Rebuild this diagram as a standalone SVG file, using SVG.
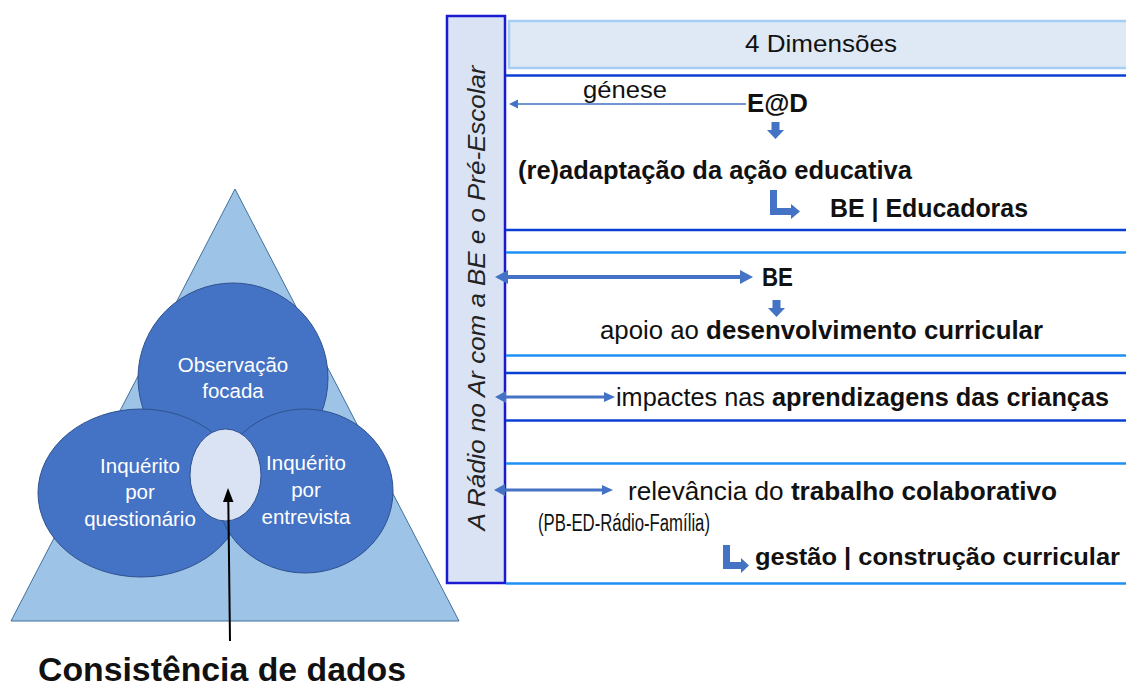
<svg xmlns="http://www.w3.org/2000/svg" width="1126" height="693" viewBox="0 0 1126 693">
<style>
.t{font-family:"Liberation Sans",Arial,sans-serif;fill:#111;font-size:25px}
.b{font-weight:bold}
.w{font-family:"Liberation Sans",Arial,sans-serif;fill:#fff;font-size:20.5px;text-anchor:middle}
.dk{stroke:#0b3fd4;stroke-width:2.5}
.lt{stroke:#1e90f5;stroke-width:2.5}
.ar{fill:#4472c4}
.circ{fill:#4472c4;stroke:#2f528f;stroke-width:1}
</style>
<rect width="1126" height="693" fill="#fff"/>
<!-- left diagram -->
<g id="triangle"><polygon points="235,189 11,621 459,621" fill="#9dc3e6" stroke="#41719c" stroke-width="1"/></g>
<g id="observacao"><ellipse cx="233" cy="378" rx="95" ry="95" class="circ"/>
<text class="w"><tspan x="233" y="372">Observação</tspan><tspan x="233" y="398">focada</tspan></text></g>
<g id="questionario"><ellipse cx="141" cy="493" rx="103" ry="84" class="circ"/>
<text class="w"><tspan x="140" y="473">Inquérito</tspan><tspan x="140" y="499">por</tspan><tspan x="140" y="526">questionário</tspan></text></g>
<g id="entrevista"><ellipse cx="305" cy="491" rx="88" ry="82" class="circ"/>
<text class="w"><tspan x="306" y="470">Inquérito</tspan><tspan x="306" y="497">por</tspan><tspan x="306" y="524">entrevista</tspan></text></g>
<g id="centro"><ellipse cx="225.5" cy="475" rx="35.5" ry="46" fill="#dae3f3" stroke="#2f528f" stroke-width="1"/></g>
<g id="consistencia"><text class="t b" x="222" y="681" style="font-size:33px" text-anchor="middle" textLength="368" lengthAdjust="spacingAndGlyphs">Consistência de dados</text></g>

<!-- right panel -->
<g id="eixo"><rect x="447" y="16" width="58" height="567" fill="#dae3f3" stroke="#1a1ad0" stroke-width="2.5"/>
<text class="t" style="font-size:23px;font-style:italic;fill:#222" transform="translate(485,298) rotate(-90)" text-anchor="middle" textLength="465" lengthAdjust="spacingAndGlyphs">A Rádio no Ar com a BE e o Pré-Escolar</text></g>
<g id="dimensoes"><rect x="509" y="21" width="620" height="47" fill="#dee9f5" stroke="#a6cdf6" stroke-width="2.5"/>
<text class="t" x="821" y="52" style="font-size:24px" text-anchor="middle" textLength="152" lengthAdjust="spacingAndGlyphs">4 Dimensões</text></g>
<g id="lines">
<line x1="506" y1="75.5" x2="1126" y2="75.5" class="dk"/>
<line x1="506" y1="230" x2="1126" y2="230" class="dk"/>
<line x1="506" y1="252.5" x2="1126" y2="252.5" class="lt"/>
<line x1="506" y1="355.5" x2="1126" y2="355.5" class="lt"/>
<line x1="506" y1="373" x2="1126" y2="373" class="dk"/>
<line x1="506" y1="420.5" x2="1126" y2="420.5" class="dk"/>
<line x1="506" y1="463.5" x2="1126" y2="463.5" class="lt"/>
<line x1="506" y1="583.5" x2="1126" y2="583.5" class="lt"/>
</g>
<g id="d1">
<text class="t" x="583" y="98" style="font-size:24px" textLength="84" lengthAdjust="spacingAndGlyphs">génese</text>
<text class="t b" x="747" y="112" textLength="61" lengthAdjust="spacingAndGlyphs">E@D</text>
<text class="t b" x="518" y="179" textLength="394" lengthAdjust="spacingAndGlyphs">(re)adaptação da ação educativa</text>
<text class="t b" x="830" y="217" textLength="198" lengthAdjust="spacingAndGlyphs">BE | Educadoras</text>
</g>
<g id="d2">
<text class="t b" x="762" y="286" textLength="31" lengthAdjust="spacingAndGlyphs">BE</text>
<text class="t" x="600" y="339" textLength="443" lengthAdjust="spacingAndGlyphs">apoio ao <tspan class="b">desenvolvimento curricular</tspan></text>
</g>
<g id="d3">
<text class="t" x="616" y="406" textLength="493" lengthAdjust="spacingAndGlyphs">impactes nas <tspan class="b">aprendizagens das crianças</tspan></text>
</g>
<g id="d4">
<text class="t" x="628" y="500" textLength="429" lengthAdjust="spacingAndGlyphs">relevância do <tspan class="b">trabalho colaborativo</tspan></text>
<text class="t" x="538" y="531" style="font-size:23px" textLength="172" lengthAdjust="spacingAndGlyphs">(PB-ED-Rádio-Família)</text>
<text class="t b" x="755" y="565" style="font-size:24px" textLength="365" lengthAdjust="spacingAndGlyphs">gestão | construção curricular</text>
</g>
<g id="connectors">
<line x1="746" y1="104" x2="516" y2="104" stroke="#4472c4" stroke-width="1.5"/>
<polygon points="509,104 518,99.5 518,108.5" class="ar"/>
<polygon points="771.5,122 779.5,122 779.5,130 784,130 775.5,139 767,130 771.5,130" class="ar"/>
<polygon points="772.5,300 780.5,300 780.5,308 785,308 776.5,317 768,308 772.5,308" class="ar"/>
<polygon points="770,190 777,190 777,208 791,208 791,204 800,211.5 791,219 791,215 770,215" class="ar"/>
<polygon points="723,545 730,545 730,562 741,562 741,558 749,565.5 741,573 741,569 723,569" class="ar"/>
<line x1="505" y1="277" x2="743" y2="277" stroke="#4472c4" stroke-width="4"/>
<polygon points="495,277 508,270 508,284" class="ar"/>
<polygon points="753,277 740,270 740,284" class="ar"/>
<line x1="504" y1="397" x2="606" y2="397" stroke="#4472c4" stroke-width="3"/>
<polygon points="495,397 506,391 506,403" class="ar"/>
<polygon points="615,397 604,392 604,402" class="ar"/>
<line x1="503" y1="490" x2="604" y2="490" stroke="#4472c4" stroke-width="3"/>
<polygon points="494,490 505,484 505,496" class="ar"/>
<polygon points="613,490 602,485 602,495" class="ar"/>
<line x1="230" y1="641" x2="228.3" y2="500" stroke="#000" stroke-width="2"/>
<polygon points="228,488 223,502 233.5,502" fill="#000"/>
</g>
</svg>
